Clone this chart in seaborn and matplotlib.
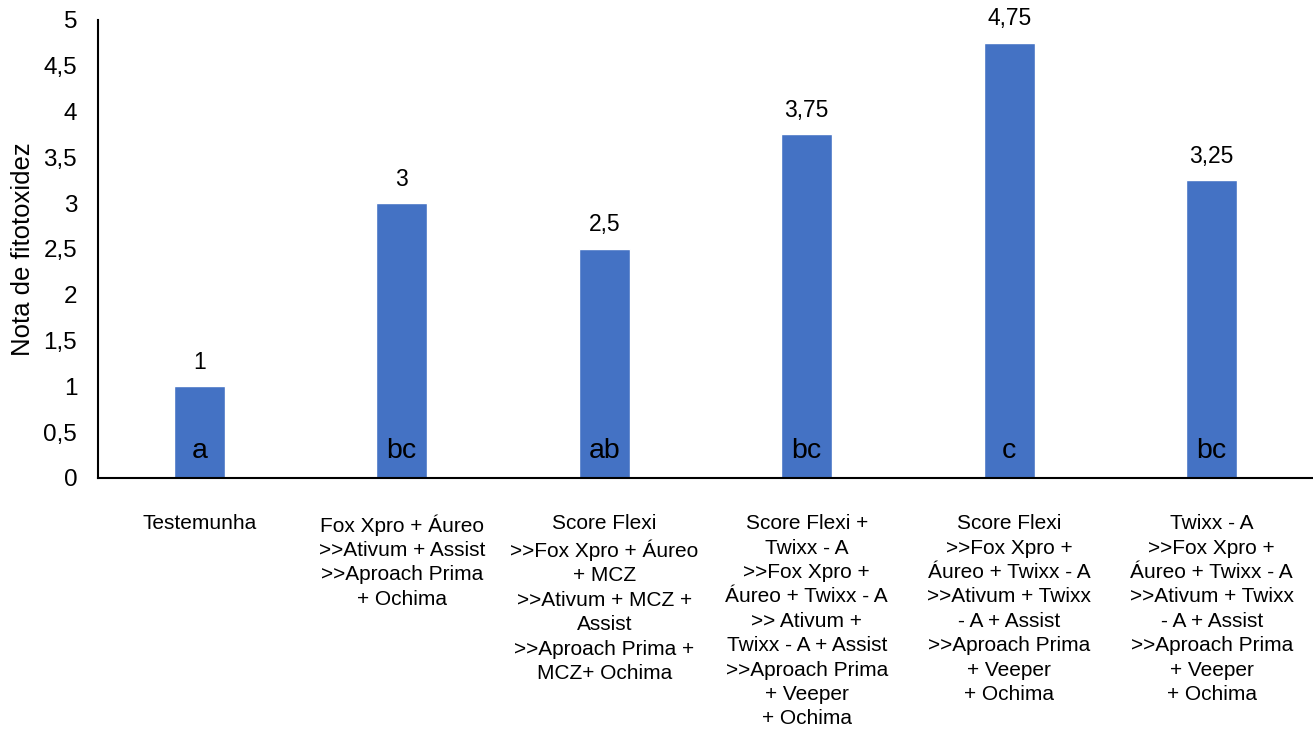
import matplotlib
matplotlib.use("Agg")
import matplotlib.pyplot as plt
import seaborn as sns
import pandas as pd
from matplotlib.ticker import FuncFormatter, MultipleLocator

categories = [
    "Testemunha",
    "Fox Xpro + Áureo\n>>Ativum + Assist\n>>Aproach Prima\n+ Ochima",
    "Score Flexi\n>>Fox Xpro + Áureo\n+ MCZ\n>>Ativum + MCZ +\nAssist\n>>Aproach Prima +\nMCZ+ Ochima",
    "Score Flexi +\nTwixx - A\n>>Fox Xpro +\nÁureo + Twixx - A\n>> Ativum +\nTwixx - A + Assist\n>>Aproach Prima\n+ Veeper\n+ Ochima",
    "Score Flexi\n>>Fox Xpro +\nÁureo + Twixx - A\n>>Ativum + Twixx\n- A + Assist\n>>Aproach Prima\n+ Veeper\n+ Ochima",
    "Twixx - A\n>>Fox Xpro +\nÁureo + Twixx - A\n>>Ativum + Twixx\n- A + Assist\n>>Aproach Prima\n+ Veeper\n+ Ochima",
]
values = [1, 3, 2.5, 3.75, 4.75, 3.25]
value_labels = ["1", "3", "2,5", "3,75", "4,75", "3,25"]
letters = ["a", "bc", "ab", "bc", "c", "bc"]

sns.set_style("white")
plt.rcParams["font.family"] = ["Liberation Sans", "DejaVu Sans"]
plt.rcParams["text.color"] = "black"
plt.rcParams["axes.labelcolor"] = "black"
plt.rcParams["xtick.color"] = "black"
plt.rcParams["ytick.color"] = "black"

df = pd.DataFrame({"cat": categories, "val": values})

fig = plt.figure(figsize=(13.13, 7.29), dpi=100)
ax = fig.add_axes([98 / 1313, 1 - 478 / 729, 1 - 98 / 1313, (478 - 20) / 729])

sns.barplot(data=df, x="cat", y="val", color="#4472C4", width=0.25,
            saturation=1, ax=ax, errorbar=None)

ax.set_ylim(0, 5)
ax.set_xlim(-0.5, len(categories) - 0.5)
ax.yaxis.set_major_locator(MultipleLocator(0.5))
ax.yaxis.set_major_formatter(FuncFormatter(lambda v, p: f"{v:g}".replace(".", ",")))

for i, (v, lab, let) in enumerate(zip(values, value_labels, letters)):
    ax.annotate(lab, (i, v), xytext=(0, 9), textcoords="offset points",
                ha="center", va="bottom", fontsize=16.5, color="black")
    ax.annotate(let, (i, 0), xytext=(0, 10), textcoords="offset points",
                ha="center", va="bottom", fontsize=20.5, color="black")

ax.set_xlabel("")
ax.set_ylabel("Nota de fitotoxidez", fontsize=18.5, labelpad=6)
ax.tick_params(axis="y", labelsize=17.5, length=0, pad=15)
ax.tick_params(axis="x", labelsize=15, length=0, pad=26)
for t in ax.get_xticklabels():
    t.set_multialignment("center")
    t.set_linespacing(1.36)
    t.set_verticalalignment("top")

for s in ["top", "right"]:
    ax.spines[s].set_visible(False)
for s in ["left", "bottom"]:
    ax.spines[s].set_color("black")
    ax.spines[s].set_linewidth(1.5)

fig.savefig("out.png", dpi=100)
